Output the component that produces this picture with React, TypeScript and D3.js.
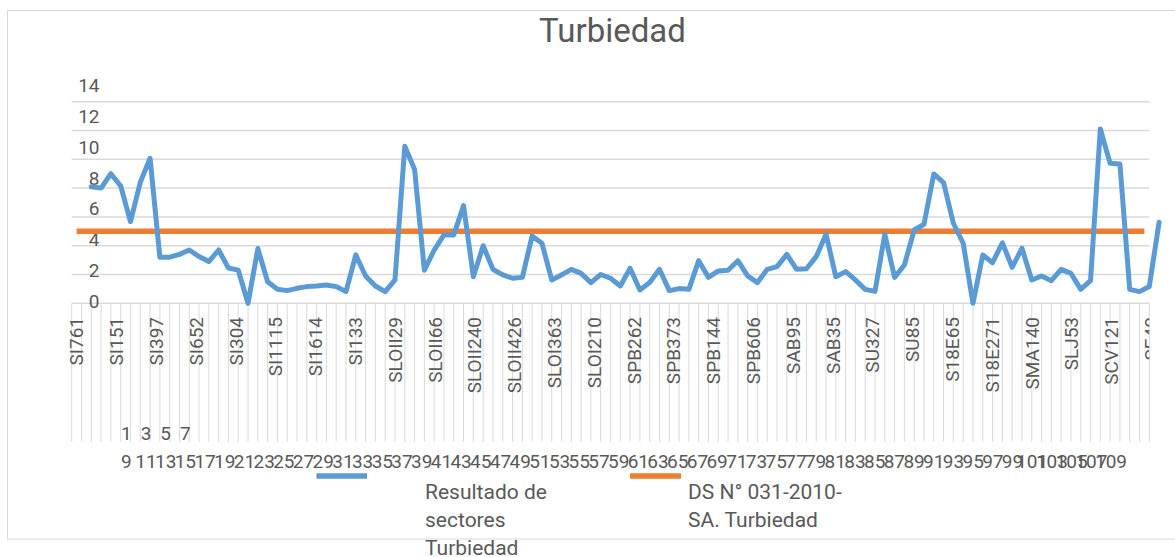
import React from "react";
import * as d3 from "d3";

const turbidity = [
  8.1, 8.0, 9.0, 8.15, 5.67, 8.4, 10.07, 3.2, 3.2, 3.4,
  3.7, 3.25, 2.9, 3.7, 2.45, 2.3, 0, 3.8, 1.5, 0.97,
  0.88, 1.04, 1.16, 1.2, 1.27, 1.16, 0.81, 3.36, 1.9, 1.2,
  0.81, 1.62, 10.9, 9.3, 2.3, 3.7, 4.75, 4.75, 6.78, 1.85,
  4.0, 2.36, 1.97, 1.74, 1.8, 4.68, 4.17, 1.62, 1.97, 2.36,
  2.08, 1.44, 2.0, 1.74, 1.2, 2.43, 0.93, 1.44, 2.36, 0.88,
  1.02, 0.97, 2.96, 1.8, 2.25, 2.3, 2.96, 1.9, 1.44, 2.36,
  2.55, 3.4, 2.36, 2.4, 3.24, 4.8, 1.85, 2.2, 1.62, 0.97,
  0.83, 4.8, 1.8, 2.66, 5.09, 5.49, 8.98, 8.38, 5.56, 4.17,
  0, 3.36, 2.82, 4.2, 2.5, 3.82, 1.62, 1.9, 1.57, 2.36,
  2.08, 0.97, 1.57, 12.1, 9.72, 9.68, 0.97, 0.81, 1.16, 5.63,
];

const limitValue = 5;
const categoryCount = 110;

const sectorLabels = [
  "SI761", "SI151", "SI397", "SI652", "SI304", "SI1115", "SI1614", "SI133",
  "SLOII29", "SLOII66", "SLOII240", "SLOII426", "SLOI363", "SLOI210",
  "SPB262", "SPB373", "SPB144", "SPB606", "SAB95", "SAB35", "SU327", "SU85",
  "S18E65", "S18E271", "SMA140", "SLJ53", "SCV121", "SE40",
];

const outerTopRow = ["1", "3", "5", "7"];
const outerBottomRow = [
  "9", "11", "13", "15", "17", "19", "21", "23", "25", "27", "29", "31", "33",
  "35", "37", "39", "41", "43", "45", "47", "49", "51", "53", "55", "57", "59",
  "61", "63", "65", "67", "69", "71", "73", "75", "77", "79", "81", "83", "85",
  "87", "89", "91", "93", "95", "97", "99", "101", "103", "105", "107", "109",
];

const yTicks = [0, 2, 4, 6, 8, 10, 12, 14];

const legendSeries = ["Resultado de", "sectores", "Turbiedad"];
const legendLimit = ["DS N° 031-2010-", "SA. Turbiedad"];

const FONT = "Roboto, 'Noto Sans', sans-serif";
const TEXT = "#595959";
const GRID = "#D9D9D9";
const BLUE = "#5B9BD5";
const ORANGE = "#ED7D31";

export default function App() {
  const left = 71.7;
  const right = 1149.3;
  const y0 = 303.3;
  const yTop = 101.7;

  const y = d3.scaleLinear().domain([0, 14]).range([y0, yTop]);
  const yLabel = d3.scaleLinear().domain([0, 14]).range([301.7, 85]);
  const xGrid = d3.scaleLinear().domain([0, categoryCount]).range([left, right]);
  const band = d3
    .scaleBand<number>()
    .domain(d3.range(categoryCount))
    .range([left, right]);
  const xLabel = d3.scaleLinear().domain([0, 108]).range([76.7, 76.7 + 108 * 9.95]);
  const xNum = d3.scaleLinear().domain([0, 50]).range([126.3, 1111]);

  const line = d3
    .line<number>()
    .x((_, i) => xGrid(i + 2))
    .y((d) => y(d));

  const limitPath = d3
    .line<number>()
    .x((d) => (band(d) as number) + band.bandwidth() / 2)
    .y(() => y(limitValue))([0, categoryCount - 1]);

  return (
    <svg
      width={1175}
      height={557}
      style={{ position: "absolute", left: 0, top: 0, background: "#fff" }}
      fontFamily={FONT}
    >
      <defs>
        <clipPath id="lblclip">
          <rect x={0} y={300} width={right} height={200} />
        </clipPath>
      </defs>
      <rect x={7.5} y={10.5} width={1180} height={528.5} fill="#fff" stroke={GRID} strokeWidth={1} />

      <text x={612.5} y={42} textAnchor="middle" fontSize={33} fill={TEXT}>
        Turbiedad
      </text>

      {yTicks.map((t) => (
        <line key={"h" + t} x1={left} x2={right} y1={y(t)} y2={y(t)} stroke={GRID} strokeWidth={1.5} />
      ))}
      {d3.range(categoryCount + 1).map((j) => (
        <line key={"v" + j} x1={xGrid(j)} x2={xGrid(j)} y1={y0} y2={441.7} stroke={GRID} strokeWidth={1} />
      ))}

      {yTicks.map((t) => (
        <text key={"yl" + t} x={99.5} y={yLabel(t)} dy="0.35em" textAnchor="end" fontSize={19} fill={TEXT}>
          {t}
        </text>
      ))}

      <g clipPath="url(#lblclip)">
        {sectorLabels.map((s, k) => {
          const cx = xLabel(k * 4);
          return (
            <text
              key={"c" + k}
              transform={`translate(${cx},317) rotate(-90)`}
              dy="0.35em"
              textAnchor="end"
              fontSize={19}
              fill={TEXT}
            >
              {s}
            </text>
          );
        })}
      </g>

      {outerTopRow.map((s, i) => (
        <text key={"t" + i} x={xNum(i)} y={433} dy="0.35em" textAnchor="middle" fontSize={19} fill={TEXT}>
          {s}
        </text>
      ))}
      {outerBottomRow.map((s, i) => (
        <text key={"b" + i} x={xNum(i)} y={461.5} dy="0.35em" textAnchor="middle" fontSize={19} fill={TEXT}>
          {s}
        </text>
      ))}

      <path d={limitPath || ""} fill="none" stroke={ORANGE} strokeWidth={5.5} />

      <path
        d={line(turbidity) || ""}
        fill="none"
        stroke={BLUE}
        strokeWidth={5}
        strokeLinejoin="round"
        strokeLinecap="round"
      />

      <line x1={316.5} x2={367} y1={476} y2={476} stroke={BLUE} strokeWidth={5.5} />
      {legendSeries.map((s, i) => (
        <text key={"ls" + i} x={425} y={499 + i * 28} fontSize={21} fill={TEXT}>
          {s}
        </text>
      ))}
      <line x1={630} x2={681} y1={476} y2={476} stroke={ORANGE} strokeWidth={5.5} />
      {legendLimit.map((s, i) => (
        <text key={"ll" + i} x={688} y={499 + i * 28} fontSize={21} fill={TEXT}>
          {s}
        </text>
      ))}
    </svg>
  );
}
